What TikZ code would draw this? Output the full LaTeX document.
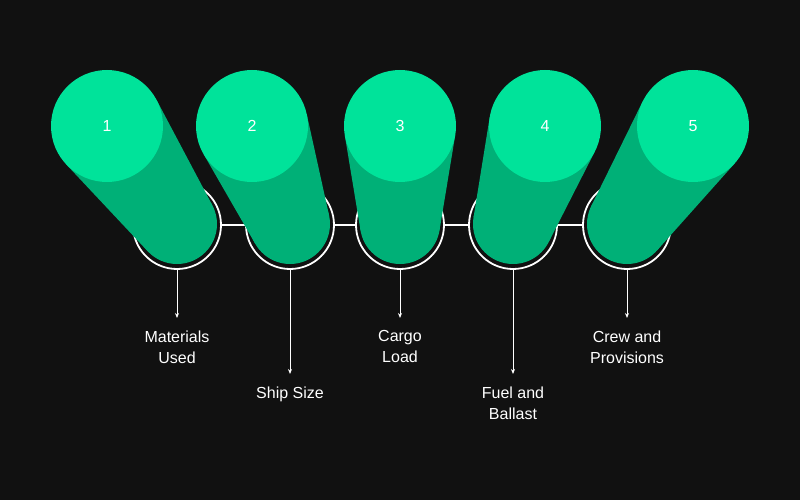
\documentclass[tikz,border=0pt]{standalone}
\usepackage{fontspec}
\setmainfont{Liberation Sans}
\usetikzlibrary{arrows.meta}
\definecolor{bg}{HTML}{111111}
\definecolor{topg}{HTML}{00E39A}
\definecolor{tubeg}{HTML}{00B077}
\begin{document}
\begin{tikzpicture}[x=1pt,y=-1pt,
  ring/.style={circle,draw=white,line width=1.8pt,fill=bg,minimum size=88pt,inner sep=0pt},
  lab/.style={text=white,font=\fontsize{16}{21}\selectfont,align=center,anchor=north},
  num/.style={text=white,font=\fontsize{16}{20}\selectfont}]
\fill[bg] (0,0) rectangle (800,500);
\useasboundingbox (0,0) rectangle (800,500);
\foreach \i/\bx in {1/177,2/290,3/400,4/513,5/627}{
  \node[ring] (r\i) at (\bx,225) {};
}
\draw[white,line width=1.8pt] (r1) -- (r2) (r2) -- (r3) (r3) -- (r4) (r4) -- (r5);
\foreach \i/\tx/\bx in {1/107/177,2/252/290,3/400/400,4/545/513,5/693/627}{
  \pgfmathsetmacro\dx{\bx-\tx}
  \pgfmathsetmacro\dy{224-126}
  \pgfmathsetmacro\d{sqrt(\dx*\dx+\dy*\dy)}
  \pgfmathsetmacro\th{atan2(\dy,\dx)}
  \pgfmathsetmacro\al{acos((56-40)/\d)}
  \pgfmathsetmacro\aa{\th+\al}
  \pgfmathsetmacro\ab{\th-\al}
  \fill[tubeg] (\tx+56*cos \aa,126+56*sin \aa) -- (\bx+40*cos \aa,224+40*sin \aa)
     -- (\bx+40*cos \ab,224+40*sin \ab) -- (\tx+56*cos \ab,126+56*sin \ab) -- cycle;
  \fill[tubeg] (\bx,224) circle (40);
  \fill[topg] (\tx,126) circle (56);
  \node[num] (n\i) at (\tx,126) {\i};
}
\foreach \i/\bx/\ay/\t in {1/177/318/{Materials\\Used},2/290/374/{Ship Size},3/400/318/{Cargo\\Load},4/513/374/{Fuel and\\Ballast},5/627/318/{Crew and\\Provisions}}{
  \coordinate (e\i) at (\bx,\ay);
  \draw[white,line width=1pt,-{Stealth[length=5pt,width=4pt]}] (r\i.south) -- (e\i);
  \node[lab] (l\i) at (\bx,\ay+9) {\t};
}
\end{tikzpicture}
\end{document}
